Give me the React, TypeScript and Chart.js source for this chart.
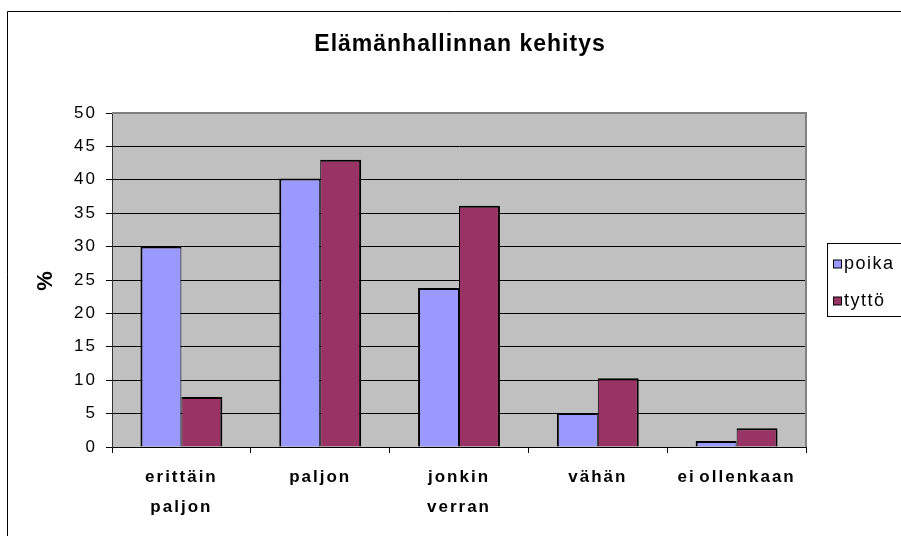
import React, { useEffect, useRef } from 'react';
import { Chart, registerables } from 'chart.js';

Chart.register(...registerables);

// ---- data ----
const categories: (string | string[])[] = [['erittäin', 'paljon'], 'paljon', ['jonkin', 'verran'], 'vähän', 'ei ollenkaan'];
const seriesNames = ['poika', 'tyttö'];
const poika = [30, 40.2, 23.8, 5.1, 0.9];
const tytto = [7.5, 43, 36.1, 10.3, 2.8];
const yMin = 0;
const yMax = 50;
const yStep = 5;
const chartTitle = 'Elämänhallinnan kehitys';
const yAxisTitle = '%';

const FONT = 'Arial, "Liberation Sans", sans-serif';
const colors = ['#9999FF', '#993366'];

const framePlugin = {
  id: 'frame',
  beforeDraw(chart: any) {
    const { ctx, chartArea } = chart;
    ctx.save();
    ctx.fillStyle = '#ffffff';
    ctx.fillRect(0, 0, chart.width, chart.height);
    ctx.strokeStyle = '#000000';
    ctx.lineWidth = 1;
    ctx.beginPath();
    ctx.moveTo(7.5, chart.height + 5);
    ctx.lineTo(7.5, 11.5);
    ctx.lineTo(chart.width + 5, 11.5);
    ctx.stroke();
    ctx.fillStyle = '#C0C0C0';
    ctx.fillRect(chartArea.left, chartArea.top, chartArea.right - chartArea.left, chartArea.bottom - chartArea.top);

    // title
    ctx.fillStyle = '#000';
    ctx.font = `bold 23px ${FONT}`;
    (ctx as any).letterSpacing = '1px';
    ctx.textAlign = 'center';
    ctx.textBaseline = 'middle';
    ctx.fillText(chartTitle, 460, 45);
    ctx.restore();
    // spacing for axis labels (Excel-like wide rendering)
    (ctx as any).letterSpacing = '2px';
    (ctx as any).wordSpacing = '-3px';
  },
  beforeDatasetsDraw(chart: any) {
    (chart.ctx as any).letterSpacing = '0px';
    (chart.ctx as any).wordSpacing = '0px';
  },
  afterDraw(chart: any) {
    const { ctx, chartArea } = chart;
    ctx.save();
    (ctx as any).letterSpacing = '0px';
    (ctx as any).wordSpacing = '0px';
    ctx.strokeStyle = '#808080';
    ctx.lineWidth = 2;
    ctx.beginPath();
    ctx.moveTo(chartArea.left, chartArea.top);
    ctx.lineTo(chartArea.right, chartArea.top);
    ctx.lineTo(chartArea.right, chartArea.bottom);
    ctx.stroke();

    // legend box
    const bx = 827.5, by = 243.5, bh = 73;
    ctx.fillStyle = '#ffffff';
    ctx.fillRect(bx, by, 200, bh);
    ctx.strokeStyle = '#000000';
    ctx.lineWidth = 1;
    ctx.strokeRect(bx, by, 200, bh);
    chart.data.datasets.forEach((ds: any, i: number) => {
      const cy = 264 + i * 37;
      ctx.fillStyle = ds.backgroundColor;
      ctx.fillRect(833.5, cy - 4, 8, 8);
      ctx.strokeStyle = '#000';
      ctx.strokeRect(833.5, cy - 4, 8, 8);
      ctx.fillStyle = '#000';
      ctx.font = `18px ${FONT}`;
      (ctx as any).letterSpacing = '1.5px';
      ctx.textBaseline = 'middle';
      ctx.textAlign = 'left';
      ctx.fillText(ds.label, 844, cy);
    });
    ctx.restore();
  },
};

export default function App() {
  const ref = useRef<HTMLCanvasElement | null>(null);
  useEffect(() => {
    if (!ref.current) return;
    const chart = new Chart(ref.current, {
      type: 'bar',
      data: {
        labels: categories,
        datasets: [
          {
            label: seriesNames[0],
            data: poika,
            backgroundColor: colors[0],
            borderColor: '#000000',
            borderWidth: { left: 2, top: 2, right: 1, bottom: 0 },
            categoryPercentage: 0.59,
            barPercentage: 1,
          },
          {
            label: seriesNames[1],
            data: tytto,
            backgroundColor: colors[1],
            borderColor: '#000000',
            borderWidth: { left: 1, top: 2, right: 2, bottom: 0 },
            categoryPercentage: 0.59,
            barPercentage: 1,
          },
        ],
      },
      options: {
        responsive: false,
        animation: false,
        devicePixelRatio: 1,
        layout: { padding: { left: 0, right: 95, top: 113, bottom: 0 } },
        plugins: {
          legend: { display: false },
          tooltip: { enabled: false },
          title: { display: false },
        },
        scales: {
          x: {
            afterFit: (s: any) => { s.height = 89; },
            grid: { display: true, drawOnChartArea: false, drawTicks: true, tickLength: 6, color: '#000', offset: true },
            border: { display: true, color: '#000', width: 1 },
            ticks: {
              color: '#000',
              padding: 9,
              maxRotation: 0,
              autoSkip: false,
              font: { family: FONT, size: 17, weight: 'bold', lineHeight: '30px' as any },
            },
          },
          y: {
            min: yMin,
            max: yMax,
            afterFit: (s: any) => { s.width = 112; },
            grid: { color: '#000', lineWidth: 1, drawTicks: true, tickLength: 6 },
            border: { display: true, color: '#333', width: 1 },
            ticks: {
              stepSize: yStep,
              color: '#000',
              padding: 9,
              font: { family: FONT, size: 17 },
            },
            title: {
              display: true,
              text: yAxisTitle,
              color: '#000',
              font: { family: FONT, size: 22, weight: 'bold', lineHeight: 1.2 },
              padding: { top: 33, bottom: 0 },
            },
          },
        },
      },
      plugins: [framePlugin],
    });
    return () => chart.destroy();
  }, []);
  return (
    <div style={{ position: 'absolute', left: 0, top: 0, width: 901, height: 536 }}>
      <canvas ref={ref} width={901} height={536} style={{ display: 'block' }} />
    </div>
  );
}
